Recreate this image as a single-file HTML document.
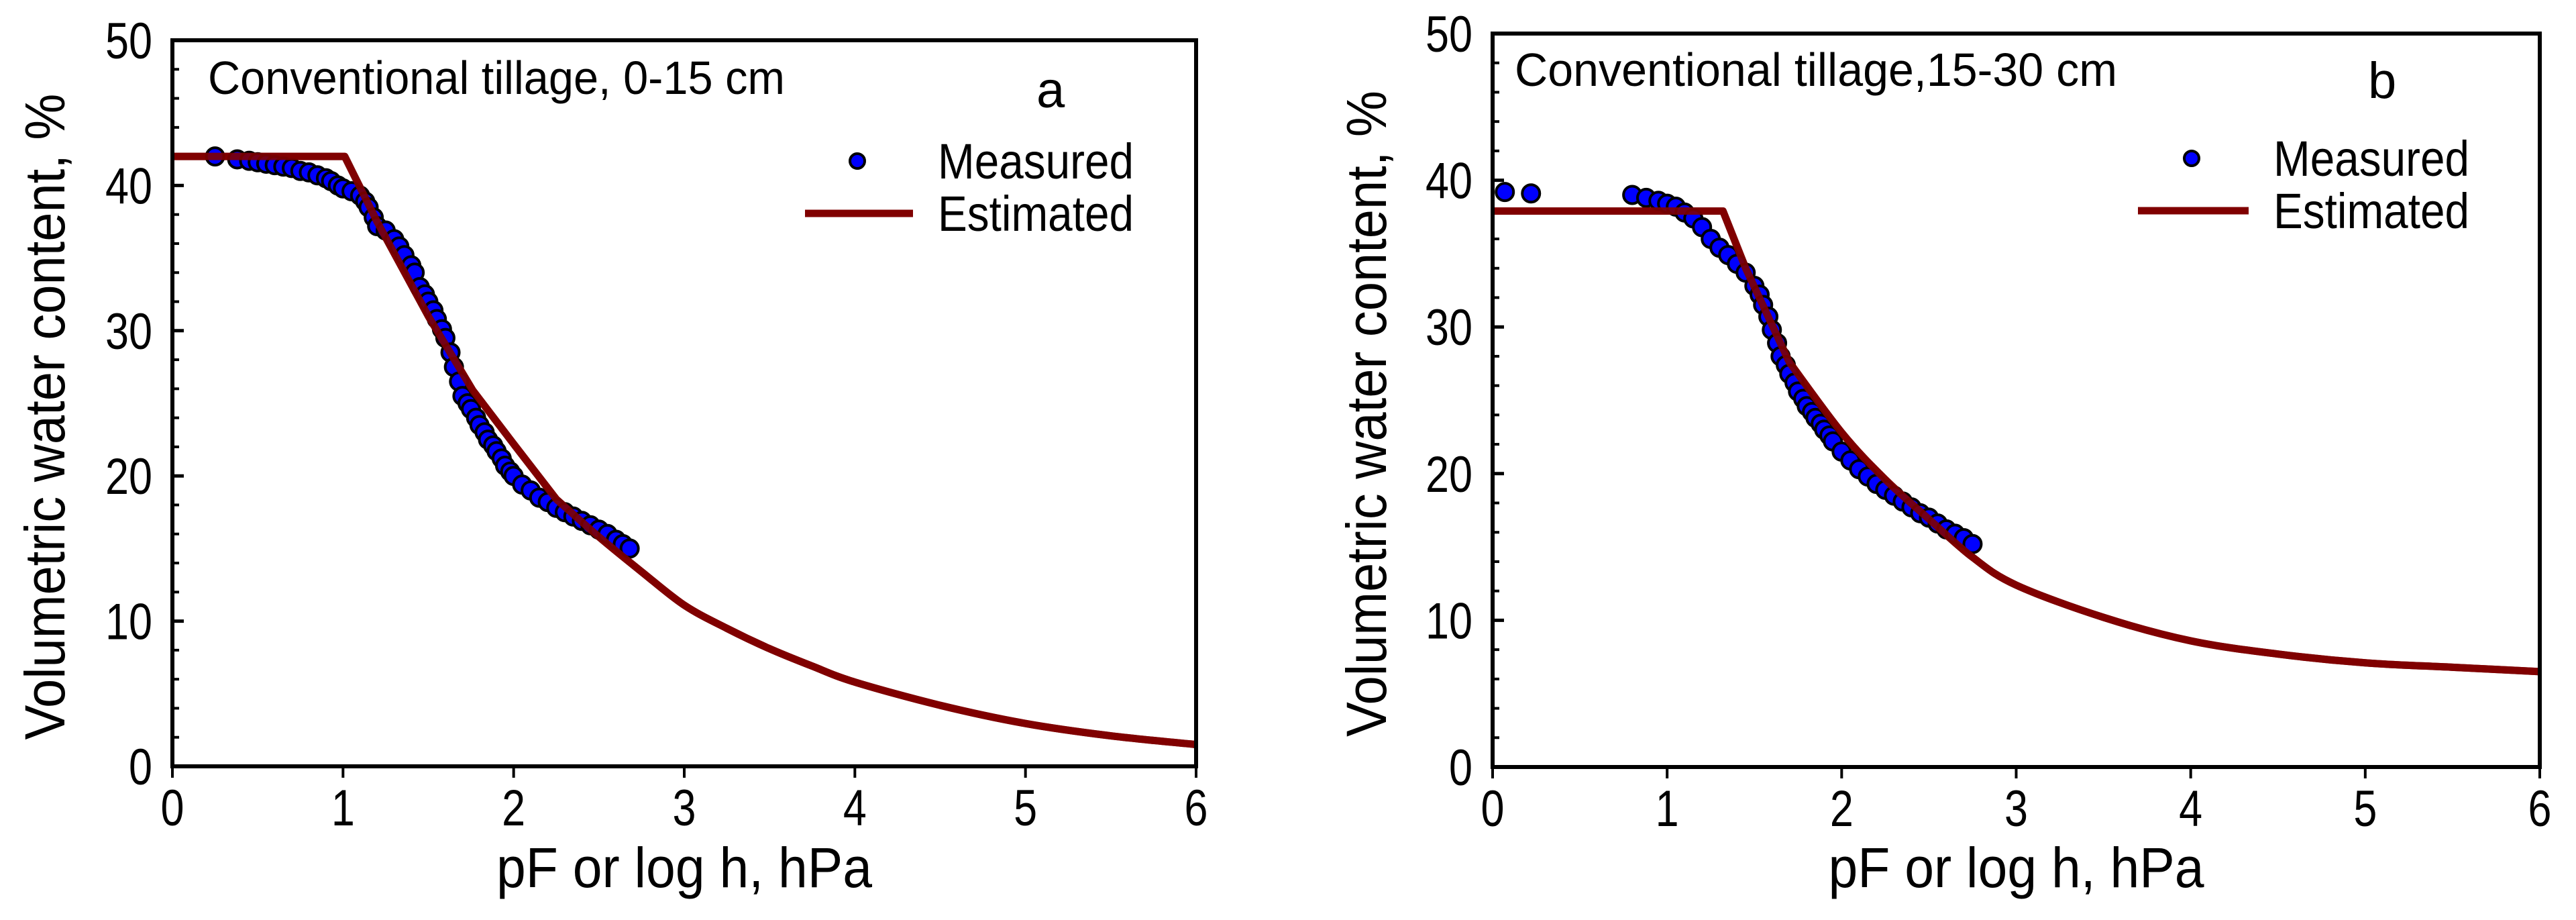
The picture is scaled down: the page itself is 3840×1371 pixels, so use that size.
<!DOCTYPE html>
<html><head><meta charset="utf-8"><style>
html,body{margin:0;padding:0;background:#fff;}
svg{display:block;font-family:"Liberation Sans",Arial,sans-serif;}
</style></head><body>
<svg id="chart" width="3840" height="1371" viewBox="0 0 3840 1371" xmlns="http://www.w3.org/2000/svg"></svg>
<script>
// Panel a data
const xTicks = [0,1,2,3,4,5,6];
const yTicks = [0,10,20,30,40,50];
const aMeasX = [0.25,0.38,0.45,0.5,0.55,0.6,0.65,0.7,0.75,0.8,0.85,0.9,0.93,0.97,1.0,1.05,1.1,1.13,1.15,1.18,1.2,1.25,1.3,1.33,1.36,1.4,1.42,1.45,1.48,1.5,1.53,1.55,1.58,1.6,1.63,1.65,1.68,1.7,1.73,1.75,1.78,1.8,1.83,1.85,1.88,1.9,1.93,1.95,1.98,2.0,2.05,2.1,2.15,2.2,2.25,2.3,2.35,2.4,2.45,2.5,2.55,2.6,2.64,2.68];
const aMeasY = [42.0,41.8,41.7,41.6,41.5,41.4,41.3,41.2,41.0,40.9,40.7,40.5,40.3,40.0,39.8,39.6,39.3,38.9,38.5,37.8,37.2,36.9,36.3,35.8,35.2,34.5,34.0,33.0,32.5,32.0,31.4,30.8,30.1,29.5,28.5,27.5,26.5,25.5,25.0,24.6,24.0,23.5,23.0,22.5,22.1,21.7,21.2,20.7,20.3,20.0,19.4,19.0,18.5,18.2,17.8,17.5,17.2,16.9,16.6,16.3,16.0,15.6,15.3,15.0];
const aEstX = [0,1.01,1.2,1.5,1.76,2.0,2.25,2.5,2.75,3.0,3.25,3.5,3.75,4.0,4.5,5.0,5.5,6.0];
const aEstY = [42,42,37.5,31,25.9,22.2,18.4,15.8,13.4,11.1,9.5,8.1,6.9,5.8,4.2,2.95,2.1,1.5];
// Panel b data
const bMeasX = [0.07,0.22,0.8,0.88,0.95,1.0,1.05,1.1,1.15,1.2,1.25,1.3,1.35,1.4,1.45,1.5,1.53,1.55,1.58,1.6,1.63,1.65,1.68,1.7,1.73,1.75,1.78,1.8,1.83,1.85,1.88,1.9,1.93,1.95,2.0,2.05,2.1,2.15,2.2,2.25,2.3,2.35,2.4,2.45,2.5,2.55,2.6,2.65,2.7,2.75];
const bMeasY = [39.2,39.1,39.0,38.8,38.6,38.4,38.2,37.8,37.4,36.8,36.0,35.4,34.9,34.3,33.7,32.8,32.2,31.5,30.7,29.8,28.9,28.0,27.4,26.8,26.2,25.6,25.1,24.6,24.2,23.8,23.4,23.0,22.6,22.2,21.5,20.9,20.3,19.8,19.3,18.9,18.5,18.1,17.7,17.3,17.0,16.6,16.2,15.9,15.6,15.2];
const bEstX = [0,1.32,1.45,1.7,2.0,2.25,2.5,2.75,3.0,3.5,4.0,4.5,5.0,5.5,6.0];
const bEstY = [37.9,37.9,34.0,27.6,22.8,19.6,16.9,14.3,12.4,10.2,8.6,7.7,7.1,6.8,6.5];

const NS = "http://www.w3.org/2000/svg";
const svg = document.getElementById('chart');
function mk(tag, attrs, parent, text){
  const e = document.createElementNS(NS, tag);
  for (const k in attrs) e.setAttribute(k, attrs[k]);
  if (text !== undefined) e.textContent = text;
  (parent||svg).appendChild(e);
  return e;
}
function curvePath(pts, straightUntil){
  let d = 'M' + pts[0][0] + ',' + pts[0][1];
  for (let i = 1; i < pts.length; i++) {
    if (i <= straightUntil) { d += ' L' + pts[i][0] + ',' + pts[i][1]; continue; }
    const p0 = pts[Math.max(i-2, straightUntil)], p1 = pts[i-1], p2 = pts[i], p3 = pts[Math.min(i+1, pts.length-1)];
    const c1x = p1[0] + (p2[0]-p0[0])/6, c1y = p1[1] + (p2[1]-p0[1])/6;
    const c2x = p2[0] - (p3[0]-p1[0])/6, c2y = p2[1] - (p3[1]-p1[1])/6;
    d += ' C' + c1x + ',' + c1y + ' ' + c2x + ',' + c2y + ' ' + p2[0] + ',' + p2[1];
  }
  return d;
}
function panel(P){
  const g = mk('g', {});
  
  
  const sx = v => P.L + (v - 0) / 6 * (P.R - P.L);
  const sy = v => P.B - v / 50 * (P.B - P.T);
  for (let v = 2; v < 50; v += 2) {
    if (v % 10 === 0) continue;
    const t = mk('line', {x1:P.L, x2:P.L+10, y1:sy(v), y2:sy(v), stroke:'#000','stroke-width':4}, g);
    
    
  }
  yTicks.forEach(v => {
    const t = mk('line', {x1:P.L, x2:P.L+17, y1:sy(v), y2:sy(v), stroke:'#000','stroke-width':5}, g);
    
    
    const s = String(v);
    const l = mk('text', {x:P.L-30, y:sy(v)+27, 'font-size':76, 'text-anchor':'end', textLength:35*s.length, lengthAdjust:'spacingAndGlyphs'}, g, s);
    
    
  });
  xTicks.forEach(v => {
    const t = mk('line', {x1:sx(v), x2:sx(v), y1:P.B, y2:P.B+17, stroke:'#000','stroke-width':4}, g);
    
    
    const l = mk('text', {x:sx(v), y:P.B+88, 'font-size':76, 'text-anchor':'middle', textLength:35, lengthAdjust:'spacingAndGlyphs'}, g, String(v));
    
    
  });
  const pts = P.ex.map((x,i)=>[sx(x), sy(P.ey[i])]);
  const d = curvePath(pts, P.straight);
  const est = mk('path', {d:d, fill:'none', stroke:'#800000','stroke-width':11,'stroke-linejoin':'round'}, g);
  
  
  P.mx.forEach((x,i) => {
    const c = mk('circle', {cx:sx(x), cy:sy(P.my[i]), r:13, fill:'#0000ff', stroke:'#000', 'stroke-width':4}, g);
    
    
  });
  const est2 = mk('path', {d:d, fill:'none', stroke:'#800000','stroke-width':11,'stroke-linejoin':'round', opacity:0.9}, g);
  
  
  const fr = mk('rect', {x:P.L, y:P.T, width:P.R-P.L, height:P.B-P.T, fill:'none', stroke:'#000','stroke-width':6}, g);
  
  
  const title = mk('text', {x:P.tx, y:P.ty, 'font-size':70, textLength:P.tw, lengthAdjust:'spacingAndGlyphs'}, g, P.title);
  
  
  const letter = mk('text', {x:P.lx, y:P.ly, 'font-size':76}, g, P.id);
  
  
  const lm = mk('circle', {cx:P.gx, cy:P.gy, r:11, fill:'#0000ff', stroke:'#000','stroke-width':4}, g);
  
  
  const lt1 = mk('text', {x:P.gtx, y:P.gy+26, 'font-size':74, textLength:292, lengthAdjust:'spacingAndGlyphs'}, g, 'Measured');
  
  
  const ll = mk('line', {x1:P.glx1, x2:P.glx2, y1:P.gy+78, y2:P.gy+78, stroke:'#800000','stroke-width':11}, g);
  
  
  const lt2 = mk('text', {x:P.gtx, y:P.gy+104, 'font-size':74, textLength:292, lengthAdjust:'spacingAndGlyphs'}, g, 'Estimated');
  
  
  const yt = mk('text', {x:0, y:0, 'font-size':84, 'text-anchor':'middle', transform:'translate('+P.yax+','+((P.T+P.B)/2+20)+') rotate(-90)', textLength:963, lengthAdjust:'spacingAndGlyphs'}, g, 'Volumetric water content,  %');
  
  
  const xt = mk('text', {x:(P.L+P.R)/2, y:1322, 'font-size':84, 'text-anchor':'middle', textLength:560, lengthAdjust:'spacingAndGlyphs'}, g, 'pF or log h, hPa');
  
  
}
panel({id:'a', L:257, R:1783, T:60, B:1142, mx:aMeasX, my:aMeasY, ex:aEstX, ey:aEstY, straight:6,
  title:'Conventional tillage, 0-15 cm', tx:310, ty:140, tw:860, lx:1545, ly:160,
  gx:1278, gy:240, gtx:1398, glx1:1200, glx2:1361, yax:96});
panel({id:'b', L:2225, R:3786, T:50, B:1143, mx:bMeasX, my:bMeasY, ex:bEstX, ey:bEstY, straight:3,
  title:'Conventional tillage,15-30 cm', tx:2258, ty:128, tw:898, lx:3530, ly:146,
  gx:3267, gy:236, gtx:3389, glx1:3187, glx2:3352, yax:2066});
</script>
</body></html>
